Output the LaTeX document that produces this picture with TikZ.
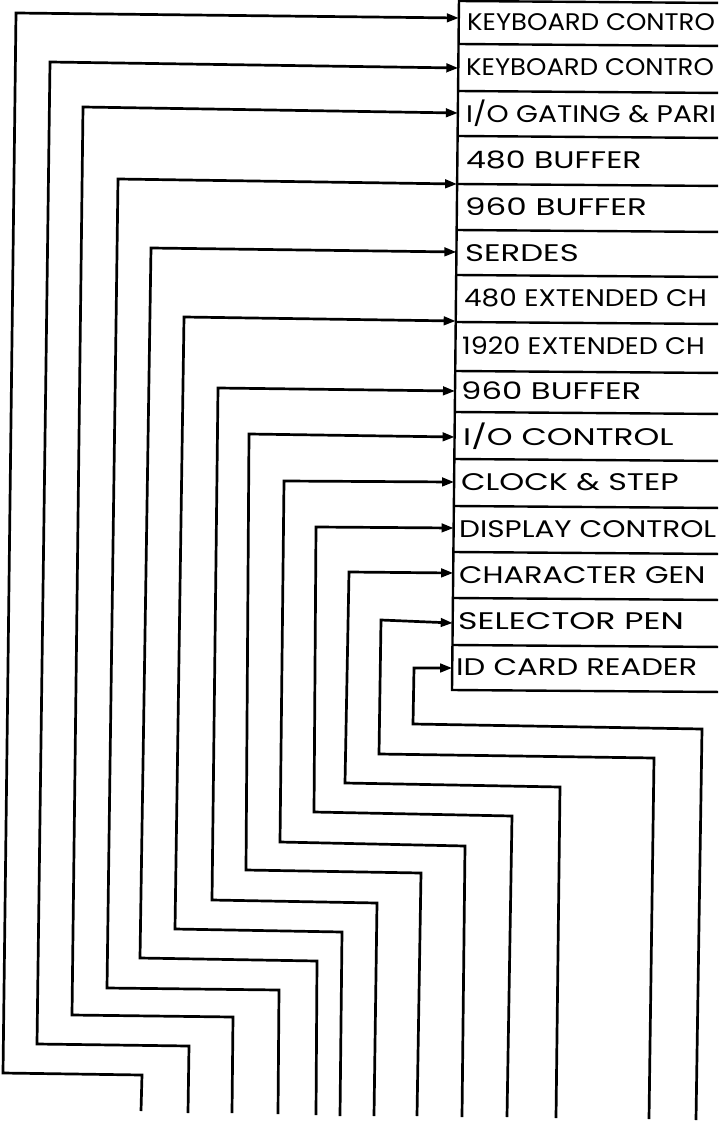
\documentclass[tikz,border=0pt]{standalone}
\usepackage{fontspec}
\newfontfamily\hand[FakeStretch=1.15]{Poppins}
\usetikzlibrary{arrows.meta}
\newcommand{\sx}[2]{\scalebox{#1}[1]{#2}}
\begin{document}
\begin{tikzpicture}[x=1pt,y=-1pt,
  wire/.style={line width=2.7pt,line join=miter,-{Triangle[length=12pt,width=8.5pt]}},
  boxline/.style={line width=2.4pt},
  lbl/.style={anchor=west,inner sep=0pt,font=\hand\fontsize{24}{26}\selectfont}]
\useasboundingbox (0,0) rectangle (718,1121);
\clip (0,0) rectangle (718,1121);
% box
\draw[boxline] (459,-2) -- (452,690) -- (725,692);
\foreach \y in {1,44,91,136,184,230,275,322,371,412,459,506,552,598,645}{
  \draw[boxline] ({459-7*\y/690},\y) -- (725,\y+2);
}
% labels
\node[lbl] (r1) at (467,22) {\sx{0.94}{KEYBOARD CONTRO}};
\node[lbl] (r2) at (466,67) {\sx{0.94}{KEYBOARD CONTRO}};
\node[lbl] (r3) at (466,113) {\sx{1.02}{I/O GATING \& PARI}};
\node[lbl] (r4) at (466,160) {\sx{1.14}{480 BUFFER}};
\node[lbl] (r5) at (465,207) {\sx{1.18}{960 BUFFER}};
\node[lbl] (r6) at (465,253) {\sx{1.17}{SERDES}};
\node[lbl] (r7) at (464,298) {\sx{1.01}{480 EXTENDED CH}};
\node[lbl] (r8) at (462,346) {\sx{0.98}{1920 EXTENDED CH}};
\node[lbl] (r9) at (461,391) {\sx{1.17}{960 BUFFER}};
\node[lbl] (r10) at (463,436) {\sx{1.19}{I/O CONTROL}};
\node[lbl] (r11) at (461,482) {\sx{1.15}{CLOCK \& STEP}};
\node[lbl] (r12) at (459,529) {\sx{1.07}{DISPLAY CONTROL}};
\node[lbl] (r13) at (459,575) {\sx{1.10}{CHARACTER GEN}};
\node[lbl] (r14) at (458,621) {\sx{1.20}{SELECTOR PEN}};
\node[lbl] (r15) at (456,667) {\sx{1.11}{ID CARD READER}};
% connectors: stub s, jog corner j, lower corner k, upper corner c, tip t
\foreach \n/\ax/\ay/\jx/\jy/\kx/\ky/\cx/\cy/\tx/\ty in {
  1/141/1111/142/1075/3/1073/16/13/458.8/18,
  2/188/1113/189/1046/37/1044/50/62/458.3/68,
  3/232/1113/233/1017/72/1015/83/107/457.9/113,
  4/278/1114/279/990/107/988/118/179/457.1/184,
  5/316/1115/317/961/140/958/151/248/456.4/252,
  6/340/1116/342/932/175/929/184/317/455.7/321,
  7/374/1116/377/903/212/900/218/388/455/391,
  8/417/1116/421/873/246/870/249/434/454.6/437,
  9/462/1117/465/846/280/842/284/481/454.1/482,
  10/507/1117/512/816/314/812/316/527/453.6/528,
  11/556/1118/560/787/345/783/349/572/453.2/573,
  12/649/1119/654/758/379/754/381/620/452.7/623,
  13/696/1120/702/729/413/724/414/668/452.2/668}{
  \coordinate (s\n) at (\ax,\ay);
  \coordinate (j\n) at (\jx,\jy);
  \coordinate (k\n) at (\kx,\ky);
  \coordinate (c\n) at (\cx,\cy);
  \coordinate (t\n) at (\tx,\ty);
  \draw[wire] (s\n) -- (j\n) -- (k\n) -- (c\n) -- (t\n);
}
\end{tikzpicture}
\end{document}
